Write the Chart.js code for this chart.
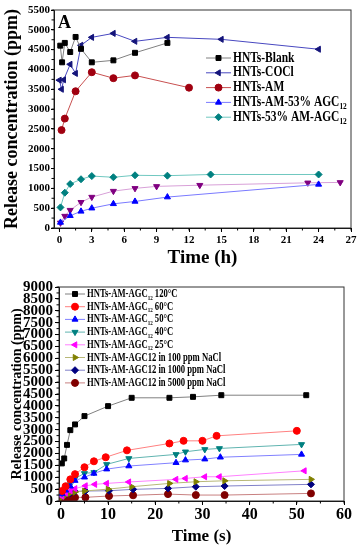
<!DOCTYPE html>
<html>
<head>
<meta charset="utf-8">
<script src="https://cdn.jsdelivr.net/npm/chart.js"></script>
<style>
  body { margin: 0; background: #fff; }
  #c1 { position: absolute; left: 0; top: 0; }
  #c2 { position: absolute; left: 0; top: 275px; }
</style>
</head>
<body>
<canvas id="c1" width="361" height="272"></canvas>
<canvas id="c2" width="361" height="275"></canvas>
<script>
// ---- top panel (A), time in hours ----
var blankX = [0.08, 0.25, 0.5, 1, 1.5, 2, 3, 5, 7, 10];
var blankY = [4600, 4180, 4670, 4440, 4820, 4520, 4180, 4230, 4420, 4670];
var coclX = [0, 0.2, 0.4, 1, 1.5, 2, 3, 5, 7, 10, 15, 24];
var coclY = [3730, 3500, 3740, 4130, 3900, 4610, 4810, 4910, 4710, 4810, 4760, 4510];
var amX = [0.2, 0.5, 1.5, 3, 5, 7, 12];
var amY = [2470, 2760, 3450, 3930, 3780, 3850, 3540];
var am53X = [0.1, 1, 2, 3, 5, 7, 10, 24];
var am53Y = [140, 310, 420, 500, 610, 670, 780, 1100];
var purpleX = [0.1, 0.5, 1, 2, 3, 5, 7, 9, 13, 23, 26];
var purpleY = [130, 300, 450, 650, 780, 930, 1000, 1050, 1080, 1140, 1150];
var tealX = [0.1, 0.5, 1, 2, 3, 5, 7, 10, 14, 24];
var tealY = [520, 890, 1110, 1230, 1310, 1280, 1330, 1320, 1350, 1350];
var topLabels = ['HNTs-Blank', 'HNTs-COCl', 'HNTs-AM', 'HNTs-AM-53% AGC_12', null, 'HNTs-53% AM-AGC_12'];
var topXTicks = [0, 3, 6, 9, 12, 15, 18, 21, 24, 27];
var topYTicks = [0, 500, 1000, 1500, 2000, 2500, 3000, 3500, 4000, 4500, 5000, 5500];

// ---- bottom panel, time in s ----
var t120X = [0.2, 0.7, 1.3, 2, 3, 5, 10, 15, 23, 28, 34, 52];
var t120Y = [1580, 1790, 2360, 2980, 3220, 3570, 3990, 4340, 4340, 4380, 4450, 4450];
var t60X = [0.25, 1, 2, 3, 5, 7, 9.5, 14, 23, 26, 30, 33, 50];
var t60Y = [420, 620, 910, 1130, 1420, 1670, 1840, 2130, 2420, 2530, 2530, 2740, 2950];
var t50X = [0.25, 1, 2, 3, 5, 7, 9.7, 14.4, 24.4, 26.4, 30.5, 33.8, 51];
var t50Y = [300, 450, 620, 860, 1000, 1160, 1340, 1470, 1610, 1720, 1760, 1840, 1960];
var t40X = [0.25, 1, 2, 3, 5, 7, 9.7, 14.4, 24.4, 26.4, 30.5, 33.6, 51];
var t40Y = [330, 500, 700, 950, 1160, 1200, 1540, 1790, 1960, 2070, 2170, 2210, 2380];
var t25X = [0.25, 1, 2, 3, 5.2, 7.2, 9.7, 14.4, 24.4, 26.4, 30.5, 33.6, 51.6];
var t25Y = [200, 330, 430, 520, 640, 700, 740, 800, 910, 950, 1020, 1020, 1270];
var n100X = [0.25, 1, 2, 3, 5, 10, 15, 23, 28.6, 34.7, 53];
var n100Y = [150, 250, 330, 380, 420, 500, 600, 740, 810, 850, 910];
var n1000X = [0.25, 1, 2, 3, 5.2, 10.2, 15.3, 22.7, 28.6, 34.7, 53];
var n1000Y = [200, 280, 330, 400, 420, 430, 490, 530, 600, 630, 700];
var n5000X = [0.25, 1, 2, 3, 5.2, 10.2, 15.3, 22.7, 28.6, 34.7, 53];
var n5000Y = [80, 100, 130, 150, 155, 210, 240, 290, 250, 250, 320];
var bottomLabels = ['HNTs-AM-AGC_12 120°C', 'HNTs-AM-AGC_12 60°C', 'HNTs-AM-AGC_12 50°C',
  'HNTs-AM-AGC_12 40°C', 'HNTs-AM-AGC_12 25°C', 'HNTs-AM-AGC12 in 100 ppm NaCl',
  'HNTs-AM-AGC12 in 1000 ppm NaCl', 'HNTs-AM-AGC12 in 5000 ppm NaCl'];
var bottomXTicks = [0, 10, 20, 30, 40, 50, 60];
var bottomYTicks = [0, 500, 1000, 1500, 2000, 2500, 3000, 3500, 4000, 4500, 5000, 5500,
  6000, 6500, 7000, 7500, 8000, 8500, 9000];

var FONT = '"Liberation Serif", "Times New Roman", serif';

function pts(xs, ys) {
  return xs.map(function(x, i) { return {x: x, y: ys[i]}; });
}

function series(xs, ys, line, mark, style, rot) {
  return {
    data: pts(xs, ys),
    showLine: true,
    borderColor: line,
    borderWidth: 1,
    pointBackgroundColor: mark,
    pointBorderColor: mark,
    pointBorderWidth: 1,
    pointStyle: style,
    pointRotation: rot || 0,
    pointRadius: 3.5
  };
}

// label text, "_12" becomes a subscript
function drawLabel(ctx, text, x, y, size, sx) {
  ctx.save();
  ctx.translate(x, y);
  ctx.scale(sx, 1);
  ctx.fillStyle = '#000';
  ctx.textBaseline = 'middle';
  var parts = text.split(/_(\d+)/);
  var cx = 0;
  parts.forEach(function(p, k) {
    var sub = k % 2 === 1;
    ctx.font = 'bold ' + (sub ? Math.round(size * 0.62) : size) + 'px ' + FONT;
    ctx.fillText(p, cx, sub ? size * 0.32 : 0);
    cx += ctx.measureText(p).width;
  });
  ctx.restore();
}

var extras = {
  id: 'extras',
  afterDraw: function(chart, args, opts) {
    var ctx = chart.ctx, a = chart.chartArea;
    ctx.save();
    ctx.strokeStyle = '#333';
    ctx.lineWidth = 1;
    ctx.strokeRect(a.left, a.top, a.right - a.left, a.bottom - a.top);

    // minor ticks
    ctx.strokeStyle = '#000';
    ['x', 'y'].forEach(function(id) {
      var s = chart.scales[id];
      var step = opts.minor[id];
      ctx.beginPath();
      for (var v = Math.ceil(s.min / step) * step; v <= s.max + 1e-9; v += step) {
        var p = s.getPixelForValue(v);
        if (id === 'x') { ctx.moveTo(p, a.bottom); ctx.lineTo(p, a.bottom + 2.5); }
        else { ctx.moveTo(a.left, p); ctx.lineTo(a.left - 2.5, p); }
      }
      ctx.stroke();
    });

    if (opts.tag) {
      ctx.fillStyle = '#000';
      ctx.font = 'bold 18px ' + FONT;
      ctx.textBaseline = 'alphabetic';
      ctx.fillText(opts.tag, a.left + 4, a.top + 18);
    }

    // legend: line + marker + text
    var L = opts.legend;
    var row = 0;
    chart.data.datasets.forEach(function(ds, i) {
      var label = L.labels[i];
      if (!label) return;
      var y = L.y + row * L.dy;
      row++;
      ctx.strokeStyle = ds.borderColor;
      ctx.lineWidth = 1;
      ctx.beginPath();
      ctx.moveTo(L.x, y);
      ctx.lineTo(L.x + L.len, y);
      ctx.stroke();
      ctx.fillStyle = ds.pointBackgroundColor;
      ctx.strokeStyle = ds.pointBorderColor;
      Chart.helpers.drawPoint(ctx, {
        pointStyle: ds.pointStyle, radius: ds.pointRadius,
        rotation: ds.pointRotation, borderWidth: 1
      }, L.x + L.len / 2, y);
      drawLabel(ctx, label, L.x + L.len + L.gap, y, L.size, L.sx);
    });
    ctx.restore();
  }
};

function axis(o) {
  return {
    type: 'linear',
    min: o.min,
    max: o.max,
    afterBuildTicks: function(s) { s.ticks = o.ticks.map(function(v) { return {value: v}; }); },
    afterFit: function(s) { if (o.w) s.width = o.w; if (o.h) s.height = o.h; },
    ticks: {
      color: '#000',
      autoSkip: false,
      maxRotation: 0,
      padding: o.pad,
      font: {family: FONT, weight: 'bold', size: o.tickSize},
      callback: function(v) { return v; }
    },
    grid: {drawOnChartArea: false, tickLength: o.tickLen, color: '#000', tickColor: '#000'},
    border: {color: '#000', width: 1},
    title: {
      display: true, text: o.title, color: '#000',
      font: {family: FONT, weight: 'bold', size: o.titleSize},
      padding: o.titlePad
    }
  };
}

new Chart(document.getElementById('c1'), {
  type: 'scatter',
  data: {
    datasets: [
      series(blankX, blankY, '#808080', '#000000', 'rect'),
      series(coclX, coclY, '#4848c0', '#14147a', 'triangle', -90),
      series(amX, amY, '#c85050', '#a00010', 'circle'),
      series(am53X, am53Y, '#7a7aff', '#0000ff', 'triangle'),
      series(purpleX, purpleY, '#d8a0d8', '#800080', 'triangle', 180),
      series(tealX, tealY, '#70c8c0', '#008080', 'rectRot')
    ]
  },
  options: {
    responsive: false,
    animation: false,
    layout: {padding: {top: 10, right: 10, left: 0, bottom: 0}},
    scales: {
      x: axis({min: -0.5, max: 27, ticks: topXTicks, h: 44, pad: 2, tickSize: 11, tickLen: 4,
        title: 'Time (h)', titleSize: 19, titlePad: {top: 0, bottom: 3}}),
      y: axis({min: 0, max: 5500, ticks: topYTicks, w: 54, pad: 1, tickSize: 11, tickLen: 3,
        title: 'Release concentration (ppm)', titleSize: 18, titlePad: {top: 2, bottom: 0}})
    },
    plugins: {
      legend: {display: false},
      tooltip: {enabled: false},
      extras: {
        minor: {x: 1.5, y: 250},
        tag: 'A',
        legend: {labels: topLabels, x: 206, y: 58, dy: 14.8, len: 25, gap: 2, size: 14, sx: 0.82}
      }
    }
  },
  plugins: [extras]
});

new Chart(document.getElementById('c2'), {
  type: 'scatter',
  data: {
    datasets: [
      series(t120X, t120Y, '#808080', '#000000', 'rect'),
      series(t60X, t60Y, '#ff8080', '#ff0000', 'circle'),
      series(t50X, t50Y, '#8080ff', '#0000ff', 'triangle'),
      series(t40X, t40Y, '#60b4b0', '#008080', 'triangle', 180),
      series(t25X, t25Y, '#ff80ff', '#ff00ff', 'triangle', -90),
      series(n100X, n100Y, '#b8b878', '#808000', 'triangle', 90),
      series(n1000X, n1000Y, '#8080c8', '#000080', 'rectRot'),
      series(n5000X, n5000Y, '#c88080', '#800000', 'circle')
    ]
  },
  options: {
    responsive: false,
    animation: false,
    layout: {padding: {top: 12, right: 17, left: 0, bottom: 0}},
    scales: {
      x: axis({min: -0.4, max: 60, ticks: bottomXTicks, h: 49, pad: 0, tickSize: 16, tickLen: 4,
        title: 'Time (s)', titleSize: 17, titlePad: {top: 0, bottom: 3}}),
      y: axis({min: 0, max: 9000, ticks: bottomYTicks, w: 59, pad: 2, tickSize: 15, tickLen: 4,
        title: 'Release concentration (ppm)', titleSize: 14, titlePad: {top: 9, bottom: 0}})
    },
    plugins: {
      legend: {display: false},
      tooltip: {enabled: false},
      extras: {
        minor: {x: 5, y: 250},
        legend: {labels: bottomLabels, x: 65, y: 19, dy: 12.7, len: 20, gap: 2, size: 12, sx: 0.72}
      }
    }
  },
  plugins: [extras]
});
</script>
</body>
</html>
